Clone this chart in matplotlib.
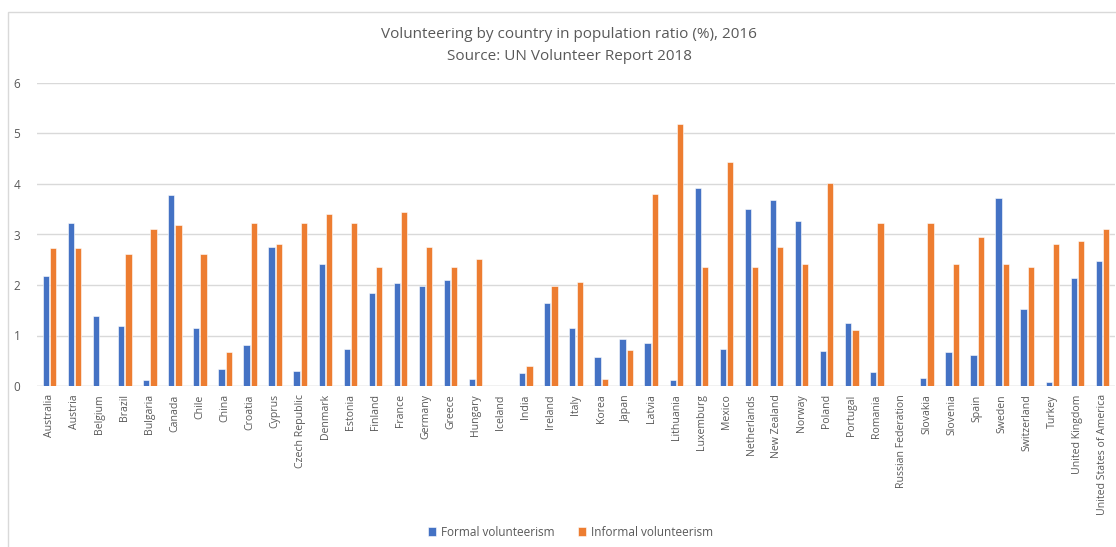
import matplotlib.pyplot as plt
import numpy as np
from matplotlib.patches import Rectangle

countries = ['Australia', 'Austria', 'Belgium', 'Brazil', 'Bulgaria', 'Canada', 'Chile', 'China',
             'Croatia', 'Cyprus', 'Czech Republic', 'Denmark', 'Estonia', 'Finland', 'France',
             'Germany', 'Greece', 'Hungary', 'Iceland', 'India', 'Ireland', 'Italy', 'Korea',
             'Japan', 'Latvia', 'Lithuania', 'Luxemburg', 'Mexico', 'Netherlands', 'New Zealand',
             'Norway', 'Poland', 'Portugal', 'Romania', 'Russian Federation', 'Slovakia',
             'Slovenia', 'Spain', 'Sweden', 'Switzerland', 'Turkey', 'United Kingdom',
             'United States of America']
formal = [2.18, 3.22, 1.38, 1.19, 0.11, 3.78, 1.14, 0.34, 0.82, 2.75, 0.29, 2.42, 0.73, 1.85,
          2.03, 1.99, 2.10, 0.13, 0.0, 0.26, 1.65, 1.14, 0.57, 0.94, 0.86, 0.11, 3.92, 0.73,
          3.51, 3.68, 3.26, 0.69, 1.24, 0.28, 0.0, 0.16, 0.68, 0.61, 3.72, 1.52, 0.07, 2.13, 2.47]
informal = [2.74, 2.74, 0.0, 2.61, 3.11, 3.18, 2.61, 0.68, 3.23, 2.82, 3.23, 3.40, 3.23, 2.35,
            3.45, 2.76, 2.35, 2.51, 0.0, 0.40, 1.99, 2.06, 0.14, 0.72, 3.80, 5.19, 2.35, 4.44,
            2.35, 2.75, 2.41, 4.01, 1.11, 3.23, 0.0, 3.23, 2.41, 2.95, 2.41, 2.35, 2.82, 2.88, 3.11]

plt.rcParams['font.family'] = ['Open Sans', 'DejaVu Sans']
grey = '#595959'
blue = '#4472C4'
orange = '#ED7D31'

fig = plt.figure(figsize=(11.16, 5.47), dpi=100)
ax = fig.add_axes([37 / 1116, 1 - 386 / 547, 1078 / 1116, 303 / 547])

x = np.arange(len(countries))
w = 0.25
ax.bar(x - w / 2 - 0.02, formal, w, color=blue, edgecolor='white', linewidth=0.4,
       label='Formal volunteerism', zorder=3)
ax.bar(x + w / 2 + 0.02, informal, w, color=orange, edgecolor='white', linewidth=0.4,
       label='Informal volunteerism', zorder=3)

ax.set_xlim(-0.5, len(countries) - 0.5)
ax.set_ylim(0, 6)
ax.set_yticks(range(7))
ax.grid(axis='y', color='#D9D9D9', linewidth=1, zorder=0)
for s in ax.spines.values():
    s.set_visible(False)
ax.axhline(0, color='#D9D9D9', linewidth=1, zorder=1)
ax.set_xticks(x)
ax.set_xticklabels(countries, rotation=90, fontsize=7.6, color=grey)
ax.tick_params(axis='both', length=0, labelcolor=grey)
ax.tick_params(axis='y', labelsize=8.5, pad=12)
ax.tick_params(axis='x', pad=6)

fig.text(0.51, 1 - 34 / 547, 'Volunteering by country in population ratio (%), 2016',
         ha='center', va='center', fontsize=11, color=grey)
fig.text(0.51, 1 - 56 / 547, 'Source: UN Volunteer Report 2018',
         ha='center', va='center', fontsize=11, color=grey)

fig.legend(loc='center', bbox_to_anchor=(0.511, 1 - 532 / 547), ncol=2, frameon=False,
           fontsize=8.5, labelcolor=grey, handlelength=0.7, handleheight=0.7,
           handletextpad=0.4, columnspacing=2.0)

fig.patches.append(Rectangle((8 / 1116, -0.1), 1.2, 1 - 12 / 547 + 0.1, transform=fig.transFigure,
                             fill=False, edgecolor='#D9D9D9', linewidth=1))

fig.savefig('out.png', dpi=100)
